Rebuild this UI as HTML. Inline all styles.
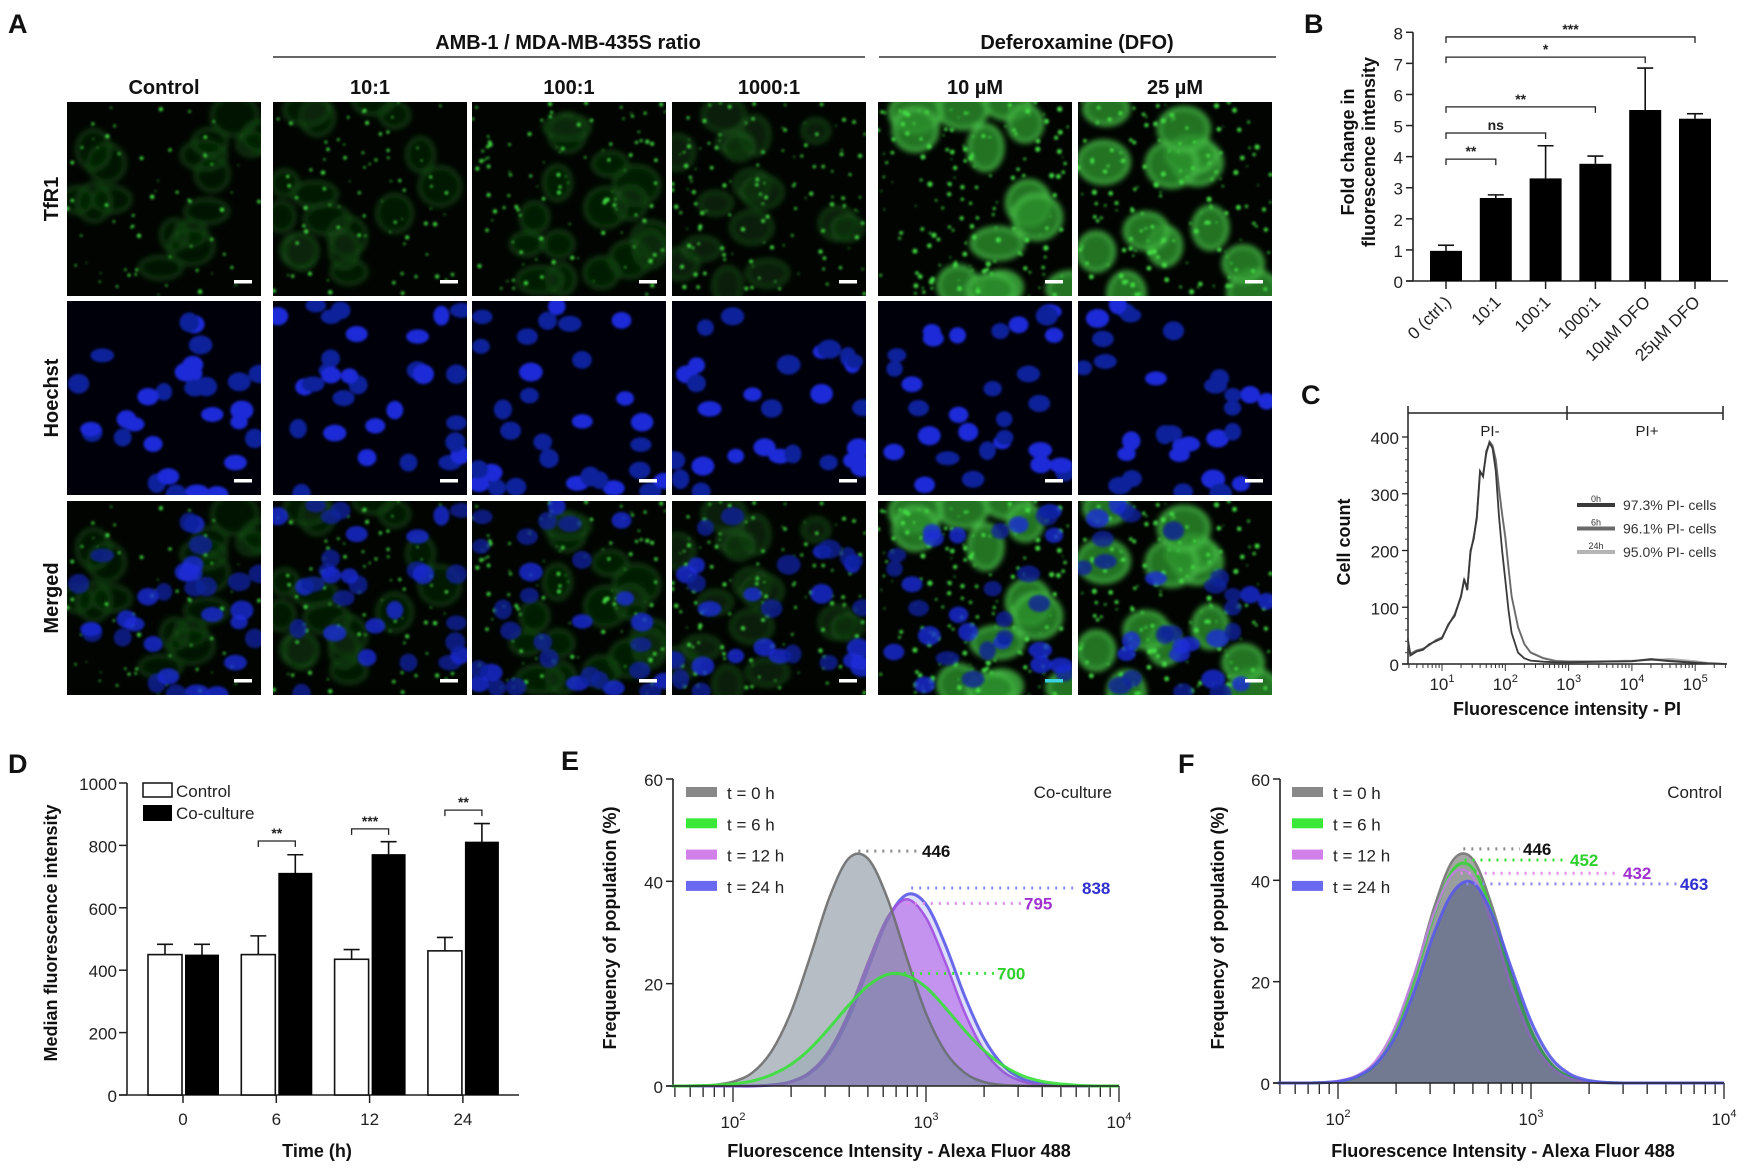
<!DOCTYPE html>
<html><head><meta charset="utf-8"><title>TfR1 figure</title>
<style>
html,body{margin:0;padding:0;background:#fff;}
svg{display:block;font-family:"Liberation Sans",Arial,sans-serif;}
.pl{font-size:27px;font-weight:bold;fill:#111;}
.hd{font-size:20px;font-weight:bold;fill:#111;}
.tk{font-size:17px;fill:#222;}
.ti{font-size:18px;font-weight:bold;fill:#111;}
</style></head>
<body>
<svg id="fig" width="1750" height="1171" viewBox="0 0 1750 1171" xmlns="http://www.w3.org/2000/svg">
<defs>
<filter id="b1" x="-20%" y="-20%" width="140%" height="140%"><feGaussianBlur stdDeviation="1.2"/></filter>
<filter id="b3" x="-30%" y="-30%" width="160%" height="160%"><feGaussianBlur stdDeviation="3"/></filter>
</defs>
<text class="pl" x="8" y="33">A</text>
<text class="hd" x="568" y="49" text-anchor="middle">AMB-1 / MDA-MB-435S ratio</text>
<line x1="273" y1="57" x2="865" y2="57" stroke="#333" stroke-width="1.5"/>
<text class="hd" x="1077" y="49" text-anchor="middle">Deferoxamine (DFO)</text>
<line x1="879" y1="57" x2="1276" y2="57" stroke="#333" stroke-width="1.5"/>
<g id="tiles"></g>
<text class="pl" x="1304" y="33">B</text>
<g id="pb"></g>
<text class="pl" x="1301" y="404">C</text>
<g id="pc"></g>
<text class="pl" x="8" y="773">D</text>
<g id="pd"></g>
<text class="pl" x="561" y="770">E</text>
<g id="pe"></g>
<text class="pl" x="1178" y="773">F</text>
<g id="pf"></g>
</svg>
<script>
// ---------- chart data ----------
const bCategories = ["0 (ctrl.)", "10:1", "100:1", "1000:1", "10µM DFO", "25µM DFO"];
const bValues = [0.97, 2.67, 3.3, 3.77, 5.5, 5.22];
const bErrTop = [1.15, 2.77, 4.35, 4.02, 6.85, 5.38];
const bYTicks = [0, 1, 2, 3, 4, 5, 6, 7, 8];
const bSigFrom = [0, 0, 0, 0, 0];
const bSigTo = [1, 2, 3, 4, 5];
const bSigLevel = [3.92, 4.76, 5.6, 7.2, 7.85];
const bSigText = ["**", "ns", "**", "*", "***"];

const cLogX = [0.46,0.5,0.6,0.7,0.8,0.9,1.0,1.1,1.2,1.3,1.35,1.4,1.45,1.5,1.55,1.6,1.65,1.7,1.75,1.8,1.85,1.9,1.95,2.0,2.05,2.1,2.2,2.3,2.4,2.6,2.8,3.0,3.5,4.0,4.3,4.6,5.0,5.2,5.5];
const cCount0h = [45,15,22,25,35,40,45,70,85,120,150,130,200,220,260,340,330,375,390,380,340,260,200,148,95,55,20,10,6,4,3,3,4,5,8,5,2,1,0];
const cCount6h = [42,18,24,27,33,42,47,68,88,118,148,135,195,225,255,335,335,370,392,385,360,310,265,225,170,120,65,35,20,10,5,4,4,5,9,6,3,1,0];
const cCount24h = [40,17,23,26,34,41,46,69,86,119,149,133,198,222,258,338,332,372,388,383,358,305,262,220,168,118,66,36,21,11,6,5,5,6,7,9,5,2,0];
const cYTicks = [0, 100, 200, 300, 400];
const cXTicks = [1, 2, 3, 4, 5];
const cLegend = ["97.3% PI- cells", "96.1% PI- cells", "95.0% PI- cells"];
const cLegendTime = ["0h", "6h", "24h"];

const dTimes = ["0", "6", "12", "24"];
const dControl = [450, 450, 435, 462];
const dControlErr = [483, 510, 466, 505];
const dCoculture = [450, 712, 772, 812];
const dCocultureErr = [483, 770, 812, 870];
const dYTicks = [0, 200, 400, 600, 800, 1000];
const dSigGroup = [1, 2, 3];
const dSigLevel = [814, 853, 913];
const dSigText = ["**", "***", "**"];

const histLogX = [1.7,1.8,1.9,2.0,2.1,2.2,2.3,2.4,2.5,2.6,2.7,2.8,2.9,3.0,3.1,3.2,3.3,3.4,3.5,3.6,3.7,3.8,3.9,4.0];
const eGray = [0,0.05,0.2,0.85,2.6,6.8,14.4,25.3,36.9,44.5,44.4,36.7,25.1,14.2,6.7,2.6,0.8,0.2,0.05,0,0,0,0,0];
const eGreen = [0,0.05,0.15,0.4,1.0,2.2,4.2,7.3,11.4,15.8,19.6,21.8,21.6,19.3,15.3,10.9,7.0,4.0,2.0,0.9,0.4,0.1,0,0];
const ePurple = [0,0,0,0,0,0.2,0.9,2.8,7.0,14.4,24.2,32.9,36.5,32.9,24.2,14.4,7.0,2.8,0.9,0.2,0,0,0,0];
const eBlue = [0,0,0,0,0,0.2,0.8,2.5,6.4,13.4,23.0,32.4,37.4,35.5,27.6,17.6,9.3,4.0,1.4,0.4,0.1,0,0,0];
const eMedians = [446, 700, 795, 838];
const ePeakHeights = [45.9, 22, 35.7, 38.7];
const fGray = [0,0,0.05,0.3,1.3,4.1,10.7,21.7,34.9,44.2,44.1,34.7,21.5,10.5,4.0,1.2,0.3,0.05,0,0,0,0,0,0];
const fGreen = [0,0,0.05,0.3,1.2,3.9,10.2,20.8,33.4,42.3,42.3,33.4,20.8,10.3,3.9,1.2,0.3,0.05,0,0,0,0,0,0];
const fPurple = [0,0,0.1,0.4,1.5,4.6,11.4,22.0,33.8,41.5,40.5,31.0,18.5,8.8,3.3,0.9,0.2,0,0,0,0,0,0,0];
const fBlue = [0,0,0.05,0.3,1.3,3.9,9.4,18.6,29.8,37.9,39.5,33.2,22.5,12.2,5.2,1.8,0.5,0.1,0,0,0,0,0,0];
const fMedians = [446, 452, 432, 463];
const fPeakHeights = [46.2, 44, 41.4, 39.3];
const histYTicks = [0, 20, 40, 60];
const histXTicks = [2, 3, 4];
const histLegend = ["t = 0 h", "t = 6 h", "t = 12 h", "t = 24 h"];

// ---------- helpers ----------
const NS = "http://www.w3.org/2000/svg";
function mk(tag, attrs, parent) {
  const el = document.createElementNS(NS, tag);
  for (const k in attrs) el.setAttribute(k, attrs[k]);
  if (parent) parent.appendChild(el);
  return el;
}
function txt(s, attrs, parent) { const t = mk("text", attrs, parent); t.textContent = s; return t; }
function pow10(parent, x, y, exp, anchor) {
  const t = mk("text", {x: x, y: y, "class": "tk", "text-anchor": anchor || "middle"}, parent);
  const a = mk("tspan", {}, t); a.textContent = "10";
  const b = mk("tspan", {dy: -8, "font-size": 11}, t); b.textContent = String(exp);
  return t;
}
function smoothPath(pts) {
  let d = "M" + pts[0][0].toFixed(1) + "," + pts[0][1].toFixed(1);
  for (let i = 0; i < pts.length - 1; i++) {
    const p0 = pts[Math.max(0, i - 1)], p1 = pts[i], p2 = pts[i + 1], p3 = pts[Math.min(pts.length - 1, i + 2)];
    const c1x = p1[0] + (p2[0] - p0[0]) / 6, c1y = p1[1] + (p2[1] - p0[1]) / 6;
    const c2x = p2[0] - (p3[0] - p1[0]) / 6, c2y = p2[1] - (p3[1] - p1[1]) / 6;
    d += " C" + c1x.toFixed(1) + "," + c1y.toFixed(1) + " " + c2x.toFixed(1) + "," + c2y.toFixed(1) + " " + p2[0].toFixed(1) + "," + p2[1].toFixed(1);
  }
  return d;
}

// ---------- Panel A microscopy tiles (decorative texture) ----------
(function () {
  const g = document.getElementById("tiles");
  const colX = [67, 273, 472, 672, 878, 1078];
  const rowY = [102, 301, 501];
  const S = 194;
  const colLabels = ["Control", "10:1", "100:1", "1000:1", "10 µM", "25 µM"];
  const rowLabels = ["TfR1", "Hoechst", "Merged"];
  const greenLevel = [0.15, 0.3, 0.55, 0.7, 1, 1];
  function rng(seed) { return function () { seed |= 0; seed = seed + 0x6D2B79F5 | 0; let t = Math.imul(seed ^ seed >>> 15, 1 | seed); t = t + Math.imul(t ^ t >>> 7, 61 | t) ^ t; return ((t ^ t >>> 14) >>> 0) / 4294967296; }; }
  colLabels.forEach(function (s, c) {
    const t = txt(s, {x: colX[c] + S / 2, y: 94, "class": "hd", "font-size": 19, "text-anchor": "middle"}, g);
    
    
  });
  rowLabels.forEach(function (s, r) {
    const cy = rowY[r] + S / 2;
    const t = txt(s, {x: 0, y: 0, "class": "hd", "font-size": 19, "text-anchor": "middle", transform: "translate(58," + cy + ") rotate(-90)"}, g);
    
    
  });
  for (let c = 0; c < 6; c++) {
    const cellR = rng(100 + c), nucR = rng(200 + c);
    const cells = [], spots = [], nuclei = [];
    const dfo = c >= 4;
    for (let i = 0; i < (dfo ? 13 : 16); i++) cells.push([cellR() * S, cellR() * S, (dfo ? 16 : 13) + cellR() * 10, (dfo ? 14 : 11) + cellR() * 9]);
    const ns = Math.round(40 + greenLevel[c] * 110);
    for (let i = 0; i < ns; i++) spots.push([cellR() * S, cellR() * S, 0.7 + cellR() * (dfo ? 2.0 : 1.5)]);
    for (let i = 0; i < 30; i++) nuclei.push([nucR() * S, nucR() * S, 8 + nucR() * 4, 7 + nucR() * 3, nucR()]);
    for (let r = 0; r < 3; r++) {
      const x0 = colX[c], y0 = rowY[r];
      const tile = mk("g", {transform: "translate(" + x0 + "," + y0 + ")"}, g);
      
      
      const cp = mk("clipPath", {id: "cp" + r + c}, tile);
      mk("rect", {x: 0, y: 0, width: S, height: S}, cp);
      const inner = mk("g", {"clip-path": "url(#cp" + r + c + ")"}, tile);
      mk("rect", {x: 0, y: 0, width: S, height: S, fill: r === 1 ? "#00000a" : "#010401"}, inner);
      if (r !== 1) {
        const gl = greenLevel[c];
        const cg = mk("g", {filter: "url(#b3)"}, inner);
        cells.forEach(function (e) {
          mk("ellipse", {cx: e[0], cy: e[1], rx: e[2], ry: e[3], fill: dfo ? "#2a8e2a" : "#0e3a0e", "fill-opacity": dfo ? 0.8 : 0.25 + gl * 0.35, stroke: dfo ? "#4cc84c" : "#1d5e1d", "stroke-width": dfo ? 3 : 2}, cg);
        });
        const sg = mk("g", {filter: "url(#b1)"}, inner);
        spots.forEach(function (p) { mk("circle", {cx: p[0], cy: p[1], r: p[2], fill: "#44e044"}, sg); });
      }
      if (r !== 0) {
        const ng = mk("g", {filter: "url(#b1)"}, inner);
        nuclei.forEach(function (n) {
          mk("ellipse", {cx: n[0], cy: n[1], rx: n[2], ry: n[3], fill: n[4] > 0.55 ? "#1a2ad8" : "#10209a", "fill-opacity": r === 2 ? 0.8 : 1}, ng);
        });
      }
      mk("rect", {x: S - 27, y: S - 16, width: 18, height: 3.5, fill: (r === 2 && c === 4) ? "#3ad0e0" : "#fff"}, inner);
    }
  }
})();

// ---------- Panel B ----------
(function () {
  const g = document.getElementById("pb");
  const ax = 1413, y0 = 281, ppu = 31.09, x0 = 1446, step = 49.8, bw = 32, xEnd = 1728;
  const X = function (i) { return x0 + i * step; };
  const Y = function (v) { return y0 - v * ppu; };
  const yAxis = mk("line", {x1: ax, y1: Y(8), x2: ax, y2: y0, stroke: "#222", "stroke-width": 1.6}, g);
  
  
  const xAxis = mk("line", {x1: ax - 7, y1: y0, x2: xEnd, y2: y0, stroke: "#222", "stroke-width": 1.6}, g);
  
  
  bYTicks.forEach(function (v) {
    mk("line", {x1: ax - 7, y1: Y(v), x2: ax, y2: Y(v), stroke: "#222", "stroke-width": 1.5}, g);
    const t = txt(String(v), {x: ax - 10, y: Y(v) + 7, "class": "tk", "font-size": 20, "text-anchor": "end"}, g);
    
    
  });
  bCategories.forEach(function (cat, i) {
    const cx = X(i);
    mk("line", {x1: cx, y1: y0, x2: cx, y2: y0 + 8, stroke: "#222", "stroke-width": 1.5}, g);
    mk("line", {x1: cx, y1: Y(bValues[i]), x2: cx, y2: Y(bErrTop[i]), stroke: "#111", "stroke-width": 1.6}, g);
    mk("line", {x1: cx - 8, y1: Y(bErrTop[i]), x2: cx + 8, y2: Y(bErrTop[i]), stroke: "#111", "stroke-width": 1.6}, g);
    const bar = mk("rect", {x: cx - bw / 2, y: Y(bValues[i]), width: bw, height: bValues[i] * ppu, fill: "#000"}, g);
    
    
    const t = txt(cat, {x: 0, y: 0, "class": "tk", "font-size": 17, "text-anchor": "end", transform: "translate(" + (cx + 6) + "," + (y0 + 22) + ") rotate(-45)"}, g);
    
    
  });
  bSigLevel.forEach(function (lv, k) {
    const xa = X(bSigFrom[k]), xb = X(bSigTo[k]), y = Y(lv);
    const p = mk("path", {d: "M" + xa + "," + (y + 6) + " V" + y + " H" + xb + " V" + (y + 6), fill: "none", stroke: "#222", "stroke-width": 1.3}, g);
    
    
    const t = txt(bSigText[k], {x: (xa + xb) / 2, y: y - 3, "font-size": 14, "font-weight": "bold", fill: "#222", "text-anchor": "middle"}, g);
    
    
  });
  const t1 = txt("Fold change in", {x: 0, y: 0, "class": "ti", "font-size": 19, "text-anchor": "middle", transform: "translate(1354,152) rotate(-90)"}, g);
  
  
  const t2 = txt("fluorescence intensity", {x: 0, y: 0, "class": "ti", "font-size": 19, "text-anchor": "middle", transform: "translate(1375,152) rotate(-90)"}, g);
  
  
})();

// ---------- Panel C ----------
(function () {
  const g = document.getElementById("pc");
  const ax = 1408, y0 = 664, ppc = 0.5675, xEnd = 1726;
  const X = function (l) { return 1442 + (l - 1) * 63.3; };
  const Y = function (v) { return y0 - v * ppc; };
  const top = mk("path", {d: "M1408,406 V420 M1408,413 H1723 M1567,406 V420 M1723,406 V420", stroke: "#222", "stroke-width": 1.5, fill: "none"}, g);
  
  
  const pim = txt("PI-", {x: 1490, y: 436, "font-size": 15, fill: "#222", "text-anchor": "middle"}, g);
  
  
  const pip = txt("PI+", {x: 1647, y: 436, "font-size": 15, fill: "#222", "text-anchor": "middle"}, g);
  
  
  const ya = mk("line", {x1: ax, y1: 420, x2: ax, y2: y0, stroke: "#222", "stroke-width": 1.5}, g);
  
  
  const xa = mk("line", {x1: ax - 6, y1: y0, x2: xEnd, y2: y0, stroke: "#222", "stroke-width": 1.5}, g);
  
  
  cYTicks.forEach(function (v) {
    mk("line", {x1: ax - 6, y1: Y(v), x2: ax, y2: Y(v), stroke: "#222", "stroke-width": 1.3}, g);
    for (let m = 1; m < 5 && v < 400; m++) mk("line", {x1: ax - 3, y1: Y(v + m * 20), x2: ax, y2: Y(v + m * 20), stroke: "#444", "stroke-width": 1}, g);
    const t = txt(String(v), {x: ax - 9, y: Y(v) + 7, "class": "tk", "font-size": 19, "text-anchor": "end"}, g);
    
    
  });
  for (let d = 0; d < 6; d++) for (let m = 1; m < 10; m++) {
    const l = d + Math.log10(m);
    if (l < 0.46 || X(l) > xEnd) continue;
    mk("line", {x1: X(l), y1: y0, x2: X(l), y2: y0 + (m === 1 ? 7 : 4), stroke: "#333", "stroke-width": 1}, g);
  }
  cXTicks.forEach(function (e) {
    const t = pow10(g, X(e), y0 + 26, e);
    t.setAttribute("font-size", 18);
    
    
  });
  const series = [[cCount24h, "#b5b5b5"], [cCount6h, "#6a6a6a"], [cCount0h, "#3a3a3a"]];
  series.forEach(function (s, k) {
    const pts = cLogX.map(function (l, i) { return X(l).toFixed(1) + "," + Y(s[0][i]).toFixed(1); }).join(" ");
    const pl = mk("polyline", {points: pts, fill: "none", stroke: s[1], "stroke-width": 1.8}, g);
    
    
  });
  const lcol = ["#3a3a3a", "#6a6a6a", "#b5b5b5"];
  cLegend.forEach(function (s, i) {
    const y = 505 + i * 23.5;
    const ln = mk("line", {x1: 1577, y1: y, x2: 1615, y2: y, stroke: lcol[i], "stroke-width": 4}, g);
    
    
    txt(cLegendTime[i], {x: 1596, y: y - 3, "font-size": 9, fill: "#333", "text-anchor": "middle"}, g);
    const t = txt(s, {x: 1623, y: y + 5, "font-size": 14, fill: "#333"}, g);
    
    
  });
  const yt = txt("Cell count", {x: 0, y: 0, "class": "ti", "font-size": 20, "text-anchor": "middle", transform: "translate(1350,542) rotate(-90)"}, g);
  
  
  const xt = txt("Fluorescence intensity - PI", {x: 1567, y: 715, "class": "ti", "font-size": 19, "text-anchor": "middle"}, g);
  
  
})();

// ---------- Panel D ----------
(function () {
  const g = document.getElementById("pd");
  const ax = 127, y0 = 1095, ppu = 0.312, x0 = 183, step = 93.3, bw = 34, xEnd = 519;
  const X = function (i) { return x0 + i * step; };
  const Y = function (v) { return y0 - v * ppu; };
  const ya = mk("line", {x1: ax, y1: Y(1000), x2: ax, y2: y0, stroke: "#222", "stroke-width": 1.6}, g);
  
  
  const xa = mk("line", {x1: ax - 8, y1: y0, x2: xEnd, y2: y0, stroke: "#222", "stroke-width": 1.6}, g);
  
  
  dYTicks.forEach(function (v) {
    mk("line", {x1: ax - 8, y1: Y(v), x2: ax, y2: Y(v), stroke: "#222", "stroke-width": 1.5}, g);
    const t = txt(String(v), {x: ax - 10, y: Y(v) + 7, "class": "tk", "font-size": 19, "text-anchor": "end"}, g);
    
    
  });
  dTimes.forEach(function (s, i) {
    const cx = X(i);
    mk("line", {x1: cx, y1: y0, x2: cx, y2: y0 + 8, stroke: "#222", "stroke-width": 1.5}, g);
    const t = txt(s, {x: cx, y: y0 + 30, "class": "tk", "font-size": 19, "text-anchor": "middle"}, g);
    
    
    const cxl = cx - 1 - bw / 2, cxr = cx + 2 + bw / 2;
    [[cxl, dControlErr[i]], [cxr, dCocultureErr[i]]].forEach(function (e) {
      mk("line", {x1: e[0], y1: Y(e[1]), x2: e[0], y2: Y(dControl[0]) + 20, stroke: "#111", "stroke-width": 1.6}, g);
      mk("line", {x1: e[0] - 8, y1: Y(e[1]), x2: e[0] + 8, y2: Y(e[1]), stroke: "#111", "stroke-width": 1.6}, g);
    });
    const b1 = mk("rect", {x: cx - 1 - bw, y: Y(dControl[i]), width: bw, height: dControl[i] * ppu, fill: "#fff", stroke: "#111", "stroke-width": 1.6}, g);
    
    
    const b2 = mk("rect", {x: cx + 2, y: Y(dCoculture[i]), width: bw, height: dCoculture[i] * ppu, fill: "#000"}, g);
    
    
  });
  dSigGroup.forEach(function (gi, k) {
    const cx = X(gi), y = Y(dSigLevel[k]);
    const xa2 = cx - 1 - bw / 2, xb2 = cx + 2 + bw / 2;
    const p = mk("path", {d: "M" + xa2 + "," + (y + 6) + " V" + y + " H" + xb2 + " V" + (y + 6), fill: "none", stroke: "#222", "stroke-width": 1.3}, g);
    
    
    const t = txt(dSigText[k], {x: (xa2 + xb2) / 2, y: y - 3, "font-size": 14, "font-weight": "bold", fill: "#222", "text-anchor": "middle"}, g);
    
    
  });
  const l1 = mk("rect", {x: 143, y: 783, width: 29, height: 14, fill: "#fff", stroke: "#111", "stroke-width": 1.5}, g);
  
  
  const l1t = txt("Control", {x: 176, y: 797, "class": "tk", "font-size": 17}, g);
  
  
  const l2 = mk("rect", {x: 143, y: 805, width: 29, height: 16, fill: "#000"}, g);
  
  
  const l2t = txt("Co-culture", {x: 176, y: 819, "class": "tk", "font-size": 17}, g);
  
  
  const yt = txt("Median fluorescence intensity", {x: 0, y: 0, "class": "ti", "font-size": 19, "text-anchor": "middle", transform: "translate(57,933) rotate(-90)"}, g);
  
  
  const xt = txt("Time (h)", {x: 317, y: 1157, "class": "ti", "font-size": 19, "text-anchor": "middle"}, g);
  
  
})();

// ---------- Panels E & F ----------
function histPanel(gid, cfg, series, medians, peaks, labelX, tag, order) {
  const g = document.getElementById(gid);
  const X = function (l) { return cfg.x2 + (l - 2) * cfg.dec; };
  const Y = function (v) { return cfg.y0 - v * cfg.ppu; };
  const xEnd = X(4);
  const ya = mk("line", {x1: cfg.ax, y1: Y(60), x2: cfg.ax, y2: cfg.y0, stroke: "#222", "stroke-width": 1.6}, g);
  
  
  histYTicks.forEach(function (v) {
    mk("line", {x1: cfg.ax - 7, y1: Y(v), x2: cfg.ax, y2: Y(v), stroke: "#222", "stroke-width": 1.5}, g);
    const t = txt(String(v), {x: cfg.ax - 10, y: Y(v) + 7, "class": "tk", "font-size": 19, "text-anchor": "end"}, g);
    
    
  });
  for (let d = 1; d < 4; d++) for (let m = 1; m < 10; m++) {
    const l = d + Math.log10(m);
    if (X(l) < cfg.ax - 0.5) continue;
    mk("line", {x1: X(l), y1: cfg.y0, x2: X(l), y2: cfg.y0 + (m === 1 ? 16 : 11), stroke: "#222", "stroke-width": 1.3}, g);
  }
  mk("line", {x1: X(4), y1: cfg.y0, x2: X(4), y2: cfg.y0 + 16, stroke: "#222", "stroke-width": 1.3}, g);
  histXTicks.forEach(function (e) {
    const t = pow10(g, X(e), cfg.y0 + 42, e);
    t.setAttribute("font-size", 16);
    
    
  });
  order.forEach(function (k) {
    const s = series[k];
    const pts = [[cfg.ax, Y(0)]].concat(histLogX.map(function (l, i) { return [Math.max(cfg.ax, X(l)), Y(s.data[i])]; }));
    const d = smoothPath(pts);
    const area = mk("path", {d: d + " L" + X(4) + "," + Y(0) + " L" + cfg.ax + "," + Y(0) + " Z", fill: s.fill, "fill-opacity": s.fo, stroke: "none"}, g);
    
    
    const line = mk("path", {d: d + " L" + X(4) + "," + Y(0), fill: "none", stroke: s.stroke, "stroke-width": s.sw, "stroke-opacity": 0.9}, g);
    
    
  });
  const xa = mk("line", {x1: cfg.ax - 7, y1: cfg.y0, x2: xEnd, y2: cfg.y0, stroke: "#222", "stroke-width": 1.6}, g);
  
  
  medians.forEach(function (m, k) {
    const xs = X(Math.log10(m)), y = Y(peaks[k]);
    const dl = mk("line", {x1: xs, y1: y, x2: labelX[k] - 3, y2: y, stroke: series[k].dot, "stroke-width": 3, "stroke-dasharray": "2 6"}, g);
    
    
    const t = txt(String(m), {x: labelX[k], y: y + 6, "font-size": 17, "font-weight": "bold", fill: series[k].lab}, g);
    
    
  });
  histLegend.forEach(function (s, i) {
    const y = 792 + i * 31.3;
    const sw = mk("rect", {x: cfg.lx, y: y - 5, width: 31, height: 10, fill: series[i].leg}, g);
    
    
    const t = txt(s, {x: cfg.lx + 41, y: y + 7, "class": "tk", "font-size": 18}, g);
    
    
  });
  const ct = txt(cfg.cond, {x: cfg.cx, y: 798, "class": "tk", "font-size": 17, "text-anchor": "end"}, g);
  
  
  const yt = txt("Frequency of population (%)", {x: 0, y: 0, "class": "ti", "font-size": 19, "text-anchor": "middle", transform: "translate(" + cfg.ytx + ",928) rotate(-90)"}, g);
  
  
  const xt = txt("Fluorescence Intensity - Alexa Fluor 488", {x: cfg.xtx, y: 1157, "class": "ti", "font-size": 18, "text-anchor": "middle"}, g);
  
  
}
histPanel("pe", {ax: 673, x2: 733, dec: 193, y0: 1086, ppu: 5.117, lx: 686, cx: 1112, cond: "Co-culture", ytx: 616, xtx: 899},
  [{data: eGray, fill: "#7a8696", fo: 0.55, stroke: "#6e6e6e", sw: 2.5, dot: "#888", lab: "#111", leg: "#888"},
   {data: eGreen, fill: "#4a7a90", fo: 0.15, stroke: "#3ae03a", sw: 3, dot: "#3ae03a", lab: "#2ed02e", leg: "#3ae83a"},
   {data: ePurple, fill: "#b060e8", fo: 0.6, stroke: "#a050e0", sw: 2.5, dot: "#e48ae8", lab: "#a030d0", leg: "#d080e8"},
   {data: eBlue, fill: "#5a60e8", fo: 0.2, stroke: "#5a5ae8", sw: 3, dot: "#8a8ae8", lab: "#3030d0", leg: "#6a6af0"}],
  eMedians, ePeakHeights, [922, 997, 1024, 1082], "e", [3, 2, 0, 1]);
histPanel("pf", {ax: 1280, x2: 1338, dec: 193, y0: 1083, ppu: 5.067, lx: 1292, cx: 1722, cond: "Control", ytx: 1224, xtx: 1503},
  [{data: fGray, fill: "#6a6a6a", fo: 0.6, stroke: "#777", sw: 2.5, dot: "#888", lab: "#111", leg: "#888"},
   {data: fGreen, fill: "#4aa04a", fo: 0.15, stroke: "#3ad03a", sw: 3, dot: "#3ae03a", lab: "#2ed02e", leg: "#3ae83a"},
   {data: fPurple, fill: "#a070c0", fo: 0.15, stroke: "#c080e0", sw: 2.5, dot: "#e48ae8", lab: "#a030d0", leg: "#d080e8"},
   {data: fBlue, fill: "#35457a", fo: 0.4, stroke: "#5a5ae8", sw: 3, dot: "#8a8ae8", lab: "#3030d0", leg: "#6a6af0"}],
  fMedians, fPeakHeights, [1523, 1570, 1623, 1680], "f", [0, 1, 2, 3]);
</script>
</body></html>
